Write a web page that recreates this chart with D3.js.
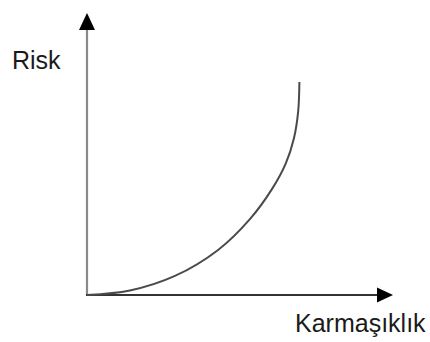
<!DOCTYPE html>
<html>
<head>
<meta charset="utf-8">
<script src="https://cdn.jsdelivr.net/npm/d3@7"></script>
<style>
  html, body { margin: 0; padding: 0; background: #fff; }
  svg { display: block; }
  text { font-family: "Liberation Sans", Arial, sans-serif; fill: #1a1a1a; }
</style>
</head>
<body>
<svg id="chart" width="430" height="342"></svg>
<script>
// Risk grows with complexity: slowly at first, then steeply
const complexity = [0, 1.43, 2.93, 4.37, 5.43, 6.17, 6.63, 6.90, 7.04, 7.08];
const risk       = [0, 0.16, 0.68, 1.61, 2.71, 3.79, 4.71, 5.61, 6.57, 7.61];

const axisLabels = { x: "Karmaşıklık", y: "Risk" };

const svg = d3.select("#chart");

const x = d3.scaleLinear().domain([0, 10]).range([87, 387]);
const y = d3.scaleLinear().domain([0, 10]).range([295, 15]);

// Vertical axis with arrowhead
svg.append("line")
  .attr("x1", x(0)).attr("x2", x(0))
  .attr("y1", y(0)).attr("y2", 28)
  .attr("stroke", "#8a8a8a").attr("stroke-width", 2.2);
svg.append("path")
  .attr("d", `M${x(0)},13 L${x(0) - 8},30 L${x(0) + 8},30 Z`)
  .attr("fill", "#000");

// Horizontal axis with arrowhead
svg.append("line")
  .attr("x1", x(0) - 1).attr("x2", 378)
  .attr("y1", y(0)).attr("y2", y(0))
  .attr("stroke", "#333").attr("stroke-width", 1.8);
svg.append("path")
  .attr("d", `M393,${y(0)} L377,${y(0) - 7.5} L377,${y(0) + 7.5} Z`)
  .attr("fill", "#000");

// Curve
const pts = complexity.map((c, i) => [c, risk[i]]);
const line = d3.line()
  .x(d => x(d[0]))
  .y(d => y(d[1]))
  .curve(d3.curveCatmullRom.alpha(0.5));

svg.append("path")
  .datum(pts)
  .attr("d", line)
  .attr("fill", "none")
  .attr("stroke", "#4a4a4a")
  .attr("stroke-width", 2);

// Axis titles
svg.append("text")
  .attr("x", 12).attr("y", 69)
  .attr("font-size", 25)
  .text(axisLabels.y);
svg.append("text")
  .attr("x", 295).attr("y", 332)
  .attr("font-size", 25)
  .text(axisLabels.x);
</script>
</body>
</html>
